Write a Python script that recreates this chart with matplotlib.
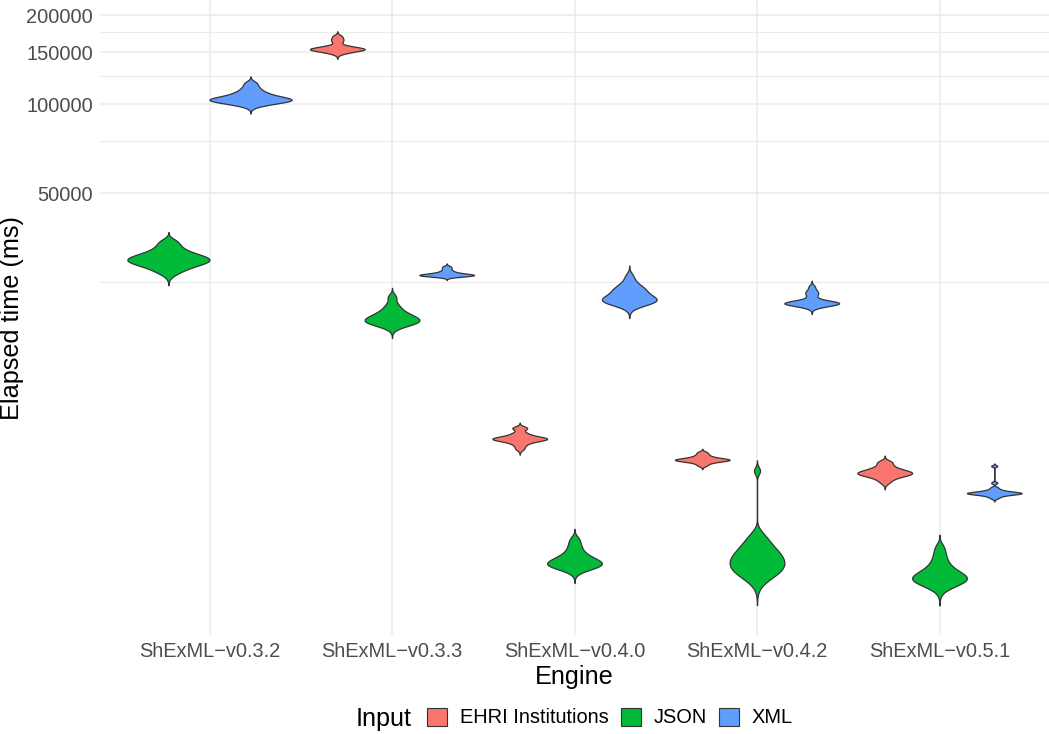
import numpy as np
import matplotlib.pyplot as plt
from matplotlib.patches import Patch
from matplotlib.ticker import FixedLocator, FixedFormatter, NullFormatter, NullLocator

plt.rcParams['font.family'] = ['Liberation Sans', 'DejaVu Sans']

engines = ["ShExML-v0.3.2", "ShExML-v0.3.3", "ShExML-v0.4.0", "ShExML-v0.4.2", "ShExML-v0.5.1"]
inputs = ["EHRI Institutions", "JSON", "XML"]
colors = ["#F8766D", "#00BA38", "#619CFF"]

# elapsed time of each run (ms)
v032_json = [27050, 28000, 28600, 29000, 29300, 29600, 29900, 30200, 30500, 30900, 31400, 32100, 33100, 34380]
v032_xml = [99400, 100800, 101800, 102500, 103000, 103400, 103800, 104300, 104900, 105700, 106800, 108000,
            109500, 111500, 114300, 118000]
v033_ehri = [148500, 150300, 151300, 152000, 152600, 153000, 153400, 153800, 154200, 154700, 155300, 156000,
             157000, 158500, 162500, 165000, 167500, 170500]
v033_json = [17850, 18050, 18250, 18400, 18540, 18680, 18850, 19050, 19280, 19550, 19900, 20400, 21100, 22300]
v033_xml = [26150, 26250, 26320, 26380, 26430, 26480, 26540, 26620, 26720, 26850, 27050, 27350, 27800, 28250]
v040_ehri = [6850, 7050, 7180, 7260, 7310, 7345, 7370, 7395, 7420, 7450, 7490, 7550, 7640, 7760, 8000, 8070]
v040_json = [2680, 2710, 2735, 2755, 2775, 2795, 2815, 2840, 2870, 2900, 2940, 2990, 3060, 3150, 3260, 3390]
v040_xml = [21200, 21350, 21450, 21550, 21650, 21800, 22000, 22250, 22550, 22900, 23300, 23600, 23900, 24300,
            25000, 26200]
v042_ehri = [6010, 6110, 6170, 6205, 6230, 6250, 6265, 6280, 6297, 6315, 6340, 6370, 6415, 6475, 6560, 6660]
v042_json = [2510, 2550, 2595, 2640, 2685, 2730, 2770, 2810, 2850, 2890, 2930, 2975, 3025, 3080, 3140, 3210,
             3290, 3390, 3520, 5765]
v042_xml = [20650, 20850, 20980, 21080, 21150, 21200, 21240, 21280, 21330, 21390, 21470, 21580, 21750, 22300,
            22800, 23100, 23500, 24200]
v051_ehri = [5280, 5420, 5500, 5550, 5590, 5620, 5645, 5670, 5700, 5730, 5770, 5820, 5880, 5960, 6100, 6190]
v051_json = [2330, 2380, 2410, 2435, 2455, 2475, 2495, 2515, 2540, 2565, 2600, 2640, 2690, 2750, 2830, 2930,
             3050, 3190]
v051_xml = [4660, 4720, 4760, 4785, 4800, 4812, 4822, 4831, 4840, 4849, 4858, 4868, 4880, 4895, 4915, 4945,
            4990, 5060, 5250, 5980]

runs = [
    ("ShExML-v0.3.2", "JSON", v032_json),
    ("ShExML-v0.3.2", "XML", v032_xml),
    ("ShExML-v0.3.3", "EHRI Institutions", v033_ehri),
    ("ShExML-v0.3.3", "JSON", v033_json),
    ("ShExML-v0.3.3", "XML", v033_xml),
    ("ShExML-v0.4.0", "EHRI Institutions", v040_ehri),
    ("ShExML-v0.4.0", "JSON", v040_json),
    ("ShExML-v0.4.0", "XML", v040_xml),
    ("ShExML-v0.4.2", "EHRI Institutions", v042_ehri),
    ("ShExML-v0.4.2", "JSON", v042_json),
    ("ShExML-v0.4.2", "XML", v042_xml),
    ("ShExML-v0.5.1", "EHRI Institutions", v051_ehri),
    ("ShExML-v0.5.1", "JSON", v051_json),
    ("ShExML-v0.5.1", "XML", v051_xml),
]

y_breaks = [50000, 100000, 150000, 200000]
y_minor = [25000, 75000, 125000, 175000]


def nrd0(x):
    iqr = np.subtract(*np.percentile(x, [75, 25]))
    return 0.9 * min(np.std(x, ddof=1), iqr / 1.34) * len(x) ** -0.2


def violin_stats(x, cut=3, n=512):
    x = np.asarray(x, dtype=float)
    bw = nrd0(x)
    coords = np.linspace(x.min() - cut * bw, x.max() + cut * bw, n)
    vals = np.exp(-0.5 * ((coords[:, None] - x[None, :]) / bw) ** 2).sum(axis=1)
    vals /= len(x) * bw * np.sqrt(2 * np.pi)
    return dict(coords=coords, vals=vals, mean=x.mean(), median=np.median(x), min=x.min(), max=x.max())


fig, ax = plt.subplots(figsize=(10.49, 7.34), dpi=100)
fig.subplots_adjust(left=100 / 1049, right=1.0, bottom=99 / 734, top=1.0)

for i, eng in enumerate(engines):
    groups = [r for r in runs if r[0] == eng]
    k = len(groups)
    width = 0.9 / k
    for j, (_, inp, data) in enumerate(groups):
        pos = i + (j - (k - 1) / 2) * width
        parts = ax.violin([violin_stats(data)], positions=[pos], widths=width, showextrema=False)
        body = parts['bodies'][0]
        body.set_facecolor(colors[inputs.index(inp)])
        body.set_edgecolor('#333333')
        body.set_alpha(1)
        body.set_linewidth(0.9)
        body.set_zorder(3)

ax.set_yscale('log')
ax.set_ylim(1604, 225300)
ax.set_xlim(-0.6, 4.6)
ax.yaxis.set_major_locator(FixedLocator(y_breaks))
ax.yaxis.set_major_formatter(FixedFormatter([str(b) for b in y_breaks]))
ax.yaxis.set_minor_locator(FixedLocator(y_minor))
ax.yaxis.set_minor_formatter(NullFormatter())
ax.set_xticks(range(len(engines)))
ax.set_xticklabels([e.replace('-', '\u2212') for e in engines])
ax.xaxis.set_minor_locator(NullLocator())

ax.set_axisbelow(True)
ax.grid(which='major', color='#EBEBEB', linewidth=1.1)
ax.grid(which='minor', axis='y', color='#EBEBEB', linewidth=0.8)
ax.tick_params(which='both', length=0, pad=5, labelsize=14.4, labelcolor='#4D4D4D')
for s in ax.spines.values():
    s.set_visible(False)

ax.set_xlabel('Engine', fontsize=18.2, labelpad=3)
ax.set_ylabel('Elapsed time (ms)', fontsize=18.2)
ax.yaxis.set_label_coords(-76 / 949, 0.5)

handles = [Patch(facecolor=c, edgecolor='#333333', linewidth=0.8) for c in colors]
fig.legend(handles, inputs, loc='center left', bbox_to_anchor=(427 / 1049, 1 - 717.5 / 734), ncol=3,
           frameon=False, fontsize=14.4, handlelength=1.0, handleheight=1.0, handletextpad=0.65,
           columnspacing=0.6, borderpad=0, borderaxespad=0)
fig.text(412 / 1049, 8 / 734, 'Input', ha='right', va='baseline', fontsize=18.2)

fig.savefig('out.png', dpi=100)
